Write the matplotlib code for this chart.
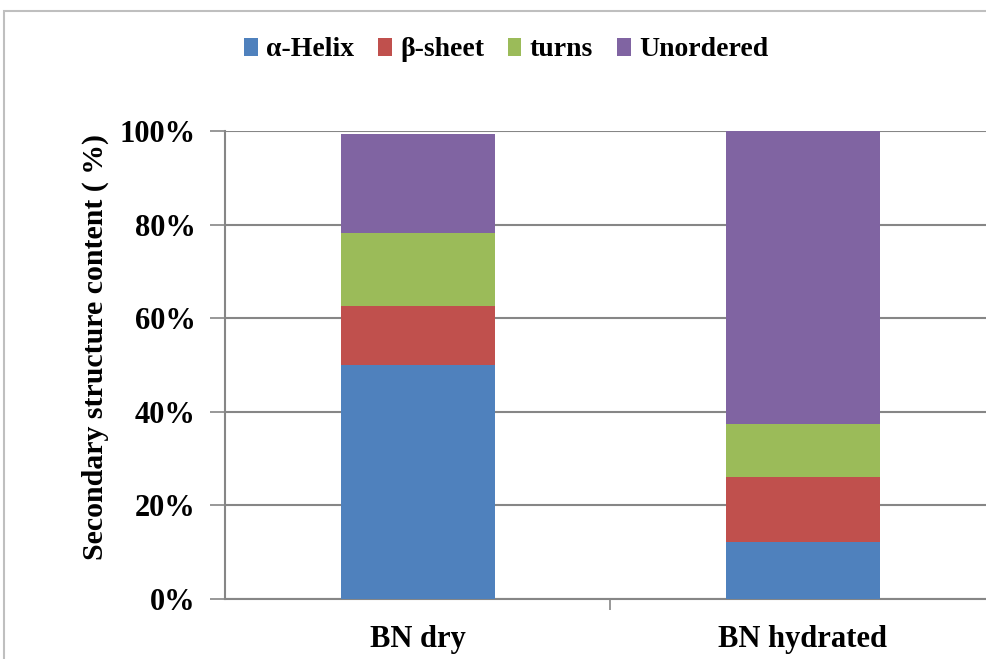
import numpy as np
import matplotlib.pyplot as plt
from matplotlib.patches import Rectangle

# Secondary structure fractions (%) from deconvolution
samples = ['BN dry', 'BN hydrated']
structures = ['\u03b1-Helix', '\u03b2-sheet', 'turns', 'Unordered']
helix = [49.9, 12.2]
sheet = [12.8, 13.9]
turns = [15.5, 11.4]
unordered = [21.2, 62.5]
colors = ['#4F81BD', '#C0504D', '#9BBB59', '#8064A2']
yticks = [0, 20, 40, 60, 80, 100]

plt.rcParams['font.family'] = ['Liberation Serif', 'DejaVu Serif']
plt.rcParams['font.weight'] = 'bold'

fig = plt.figure(figsize=(9.87, 6.59), dpi=100)
# outer chart frame
fig.patches.append(Rectangle((4 / 987, -0.1), 1.1, 1 - 11 / 659 + 0.1,
                             transform=fig.transFigure, fill=False,
                             edgecolor='#BFBFBF', linewidth=1.5))

ax = fig.add_axes([225 / 987, 1 - 599 / 659, 770 / 987, 468 / 659])
x = np.arange(len(samples))
bottom = np.zeros(len(samples))
for name, vals, c in zip(structures, [helix, sheet, turns, unordered], colors):
    ax.bar(x, vals, width=0.4, bottom=bottom, color=c, label=name, zorder=3)
    bottom += np.array(vals)

ax.set_xlim(-0.5, 1.5)
ax.set_ylim(0, 100)
ax.set_yticks(yticks)
ax.set_yticklabels([f'{v}%' for v in yticks], fontsize=22, fontweight='bold')
ax.yaxis.grid(True, color='#868686', linewidth=1.5, zorder=0)
ax.tick_params(axis='y', length=11, width=1.2, color='#868686', pad=10)

ax.set_xticks(x)
ax.set_xticklabels(samples, fontsize=22, fontweight='bold')
ax.set_xticks([0.5], minor=True)
ax.tick_params(axis='x', which='major', length=0, pad=19)
ax.tick_params(axis='x', which='minor', length=8, width=1.2, color='#868686')

for side in ['top', 'right']:
    ax.spines[side].set_visible(False)
for side in ['left', 'bottom']:
    ax.spines[side].set_color('#868686')
    ax.spines[side].set_linewidth(1.5)

ax.set_ylabel('Secondary structure content ( %)', fontsize=21.5, fontweight='bold')
ax.yaxis.set_label_coords(-0.150, 0.538)

fig.legend(loc='center', bbox_to_anchor=(506 / 987, 1 - 50 / 659), ncol=4,
           frameon=False, handlelength=0.5, handleheight=0.6,
           handletextpad=0.3, columnspacing=0.85,
           prop={'weight': 'bold', 'size': 20})

fig.savefig('out.png', dpi=100)
